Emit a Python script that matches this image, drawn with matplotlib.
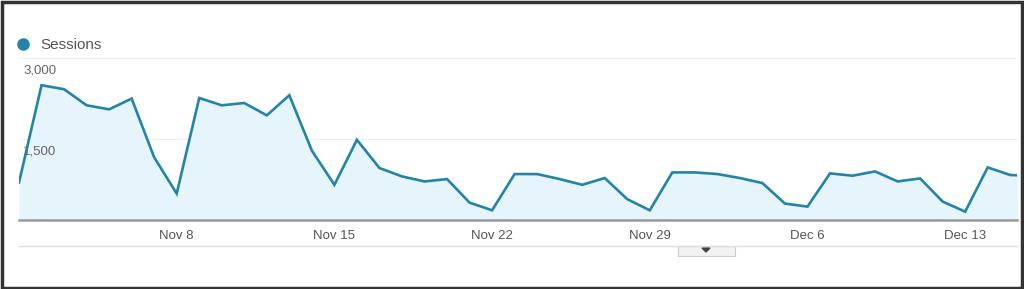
import numpy as np
import pandas as pd
import matplotlib
matplotlib.use("Agg")
import matplotlib.pyplot as plt
from matplotlib.patches import Rectangle, Polygon

plt.rcParams['font.family'] = ['Liberation Sans', 'DejaVu Sans']

# daily sessions, Nov 1 - Dec 16 (last point only partly visible)
days = pd.date_range("2015-11-01", "2015-12-16", freq="D")
sessions = [695, 2496, 2422, 2124, 2049, 2248, 1161,
            490, 2260, 2124, 2167, 1938, 2310, 1285,
            652, 1485, 963, 807, 714, 758, 322,
            180, 851, 851, 758, 652, 777, 386,
            180, 881, 881, 851, 777, 684, 304,
            248, 863, 820, 900, 714, 770, 341,
            155, 974, 833, 820]
tick_days = pd.to_datetime(["2015-11-08", "2015-11-15", "2015-11-22",
                            "2015-11-29", "2015-12-06", "2015-12-13"])
tick_labels = ["Nov 8", "Nov 15", "Nov 22", "Nov 29", "Dec 6", "Dec 13"]
y_ticks = [1500, 3000]
y_labels = ["1,500", "3,000"]

line_col = "#2384a8"
fill_col = "#e6f4fb"

fig = plt.figure(figsize=(10.24, 2.89), dpi=100)
W, H = 1024, 289
ax = fig.add_axes([19 / W, (H - 220) / H, (1017 - 19) / W, (220 - 58) / H])

ax.fill_between(days, sessions, 0, color=fill_col, lw=0)
ax.plot(days, sessions, color=line_col, lw=1.9, solid_joinstyle="miter")

ax.set_xlim(days[0], days[0] + pd.Timedelta(days=44.3))
ax.set_ylim(0, 3000)

# faint gridlines
for v in y_ticks:
    ax.axhline(v, color="#eeeeee", lw=0.8, zorder=0)

for s in ["top", "right", "left"]:
    ax.spines[s].set_visible(False)
ax.spines["bottom"].set_color("#999999")
ax.spines["bottom"].set_linewidth(1.8)

ax.set_yticks([])
ax.set_xticks(tick_days)
ax.set_xticklabels(tick_labels, fontsize=9.5, color="#555555")
ax.tick_params(axis="x", length=0, pad=7)

# y labels sit a little below their gridlines, inside the plot
for v, lab in zip(y_ticks, y_labels):
    ax.annotate(lab, (0, v), xycoords=ax.get_yaxis_transform(),
                xytext=(3, -5), textcoords="offset points",
                fontsize=9.5, color="#666666", ha="left", va="top")

# legend
fig.add_artist(plt.Line2D([23 / W], [(H - 44) / H], transform=fig.transFigure,
                          marker="o", markersize=8, color=line_col, lw=0))
fig.text(40 / W, (H - 45) / H, "Sessions", fontsize=11, color="#555555",
         ha="left", va="center")

# line under the labels and little toggle tab
fig.add_artist(plt.Line2D([19 / W, 1017 / W], [(H - 246) / H] * 2,
                          transform=fig.transFigure, color="#dddddd", lw=1))
fig.patches.append(Rectangle((678 / W, (H - 256) / H), 57 / W, 10 / H,
                             transform=fig.transFigure, facecolor="#f2f2f2",
                             edgecolor="#cccccc", lw=0.8, figure=fig))
fig.patches.append(Polygon([[702 / W, (H - 248) / H], [710 / W, (H - 248) / H],
                            [706 / W, (H - 252) / H]], closed=True,
                           transform=fig.transFigure, color="#444444", figure=fig))

# dark frame around the whole picture
fig.patches.append(Rectangle((0.0015, 0.004), 0.997, 0.99, transform=fig.transFigure,
                             fill=False, edgecolor="#333333", lw=2.5, figure=fig))

fig.savefig("out.png", dpi=100)
